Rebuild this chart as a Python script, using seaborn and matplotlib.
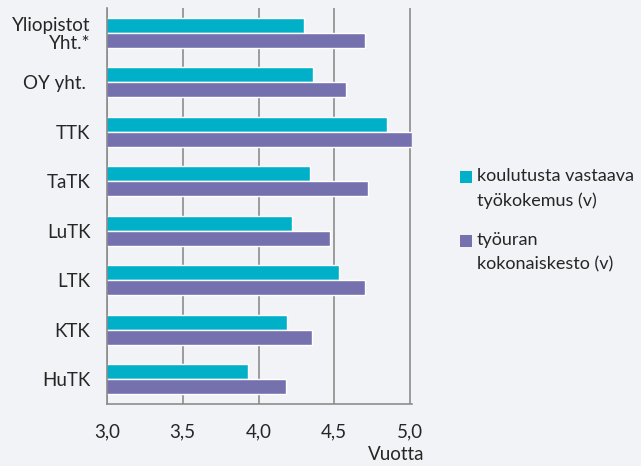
import pandas as pd
import matplotlib
matplotlib.use("Agg")
import matplotlib.pyplot as plt
from matplotlib.patches import Rectangle
import seaborn as sns

categories = ["Yliopistot\nYht.*", "OY yht. ", "TTK", "TaTK", "LuTK", "LTK", "KTK", "HuTK"]
koulutus = [4.30, 4.36, 4.85, 4.34, 4.22, 4.53, 4.19, 3.93]
tyoura = [4.70, 4.58, 5.01, 4.72, 4.47, 4.70, 4.35, 4.18]
series = ["koulutusta vastaava\ntyökokemus (v)", "työuran\nkokonaiskesto (v)"]
colors = ["#00b0c8", "#7570ae"]
xticks = [3.0, 3.5, 4.0, 4.5, 5.0]
xtick_labels = ["3,0", "3,5", "4,0", "4,5", "5,0"]

df = pd.DataFrame({
    "cat": categories * 2,
    "value": koulutus + tyoura,
    "series": [series[0]] * len(categories) + [series[1]] * len(categories),
})

sns.set_style("white")
plt.rcParams['font.family'] = ['Lato', 'DejaVu Sans']
bg = "#f2f3f6"
grey = "#8c8c8c"

fig = plt.figure(figsize=(6.41, 4.66), dpi=100, facecolor=bg)
ax = fig.add_axes([107 / 641, 1 - 404 / 466, 305.3 / 641, 396 / 466])
ax.set_facecolor(bg)

sns.barplot(data=df, y="cat", x="value", hue="series", order=categories,
            hue_order=series, palette=colors, orient="h",
            width=0.6, gap=0, ax=ax, legend=False, saturation=1)

ax.set_xlim(3, 5.015)
ax.set_ylim(len(categories) - 0.5, -0.5)
ax.set_xticks(xticks)
ax.set_xticklabels(xtick_labels, fontsize=13.5)
ax.set_yticks(range(len(categories)))
ax.set_yticklabels(categories, fontsize=13.5, ha="right", linespacing=1.05)
ax.set_yticks([i - 0.5 for i in range(len(categories) + 1)], minor=True)
ax.tick_params(axis="y", which="major", length=0, pad=12)
ax.tick_params(axis="y", which="minor", length=5, color=grey, width=1.2)
ax.tick_params(axis="x", which="major", length=5, color=grey, width=1.2, pad=9)
ax.grid(axis="x", color=grey, linewidth=1.2)
ax.set_axisbelow(True)
for s in ["top", "right"]:
    ax.spines[s].set_visible(False)
for s in ["left", "bottom"]:
    ax.spines[s].set_color(grey)
    ax.spines[s].set_linewidth(1.2)
ax.set_ylabel("")
ax.set_xlabel("Vuotta", fontsize=13.5, loc="right")
ax.xaxis.set_label_coords(1.04, -0.105)

# legend drawn by hand so the swatch sits on the first text line
leg_y = [177, 241]
for lab, col, y in zip(series, colors, leg_y):
    fig.patches.append(Rectangle((460 / 641, 1 - (y + 6) / 466), 12 / 641, 12 / 466,
                                 transform=fig.transFigure, facecolor=col,
                                 edgecolor="none"))
    fig.text(477 / 641, 1 - (y - 9) / 466, lab, fontsize=13, va="top",
             ha="left", linespacing=1.65)

fig.savefig("out.png", dpi=100, facecolor=bg)
